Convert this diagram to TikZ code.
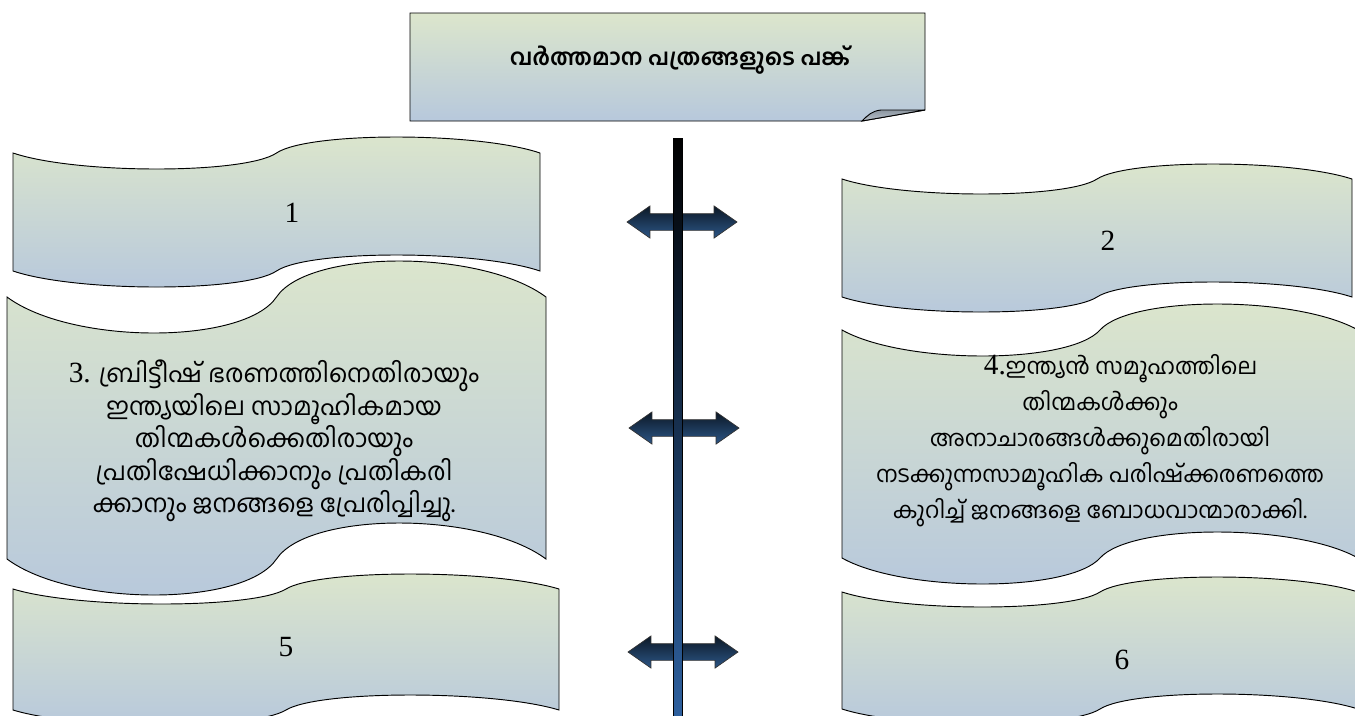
\documentclass[tikz,border=0pt]{standalone}
\usepackage{fontspec}
\setmainfont{Liberation Serif}
\newfontfamily\malfont[Script=Malayalam]{Hind Kochi}
\usetikzlibrary{shapes.arrows}

\definecolor{wavetop}{RGB}{220,230,204}
\definecolor{wavebot}{RGB}{183,200,220}
\definecolor{foldtop}{RGB}{140,150,160}
\definecolor{foldbot}{RGB}{185,194,204}
\definecolor{arrowtop}{RGB}{12,24,38}
\definecolor{arrowbot}{RGB}{44,86,134}
\definecolor{barbot}{RGB}{46,96,158}

% wave outline: left, top end, right, bottom end, swing
\newcommand{\wavepath}[5]{(#1,#2)
  .. controls ({#1+0.12*(#3-#1)},{#2+4*#5/3}) and ({#1+0.44*(#3-#1)},{#2+4*#5/3}) .. ({#1+(#3-#1)/2},#2)
  .. controls ({#1+0.56*(#3-#1)},{#2-4*#5/3}) and ({#1+0.88*(#3-#1)},{#2-4*#5/3}) .. (#3,#2)
  -- (#3,#4)
  .. controls ({#1+0.88*(#3-#1)},{#4-4*#5/3}) and ({#1+0.56*(#3-#1)},{#4-4*#5/3}) .. ({#1+(#3-#1)/2},#4)
  .. controls ({#1+0.44*(#3-#1)},{#4+4*#5/3}) and ({#1+0.12*(#3-#1)},{#4+4*#5/3}) .. (#1,#4) -- cycle}

\begin{document}
\begin{tikzpicture}[x=0.75pt,y=-0.75pt]
 \tikzstyle{every node}=[text=black, inner sep=0pt]
 \tikzstyle{banner}=[draw=black, line width=0.7pt, top color=wavetop, bottom color=wavebot]
 \tikzstyle{maltext}=[font=\malfont\fontsize{18.7}{21.9}\selectfont, align=center]
 \tikzstyle{numtext}=[font=\fontsize{22}{26}\selectfont]
 \tikzstyle{linkarrow}=[double arrow, draw=black!80, line width=0.5pt,
                        top color=arrowtop, bottom color=arrowbot,
                        inner xsep=0pt, inner ysep=6pt, minimum height=82.5pt,
                        double arrow head extend=5.8pt, double arrow tip angle=70]

\useasboundingbox (0,0) rectangle (1355,715);

% title with folded corner
\path[banner] (410,13) -- (925,13) -- (925,110) -- (862,121) -- (410,121) -- cycle;
\path[draw=black, line width=0.7pt, top color=foldtop, bottom color=foldbot]
    (862,121) .. controls (868,115) and (872,111) .. (881,110) -- (925,110) -- cycle;
\node[maltext, font=\malfont\bfseries\fontsize{17}{21.75}\selectfont] (title) at (680,60)
    {വർത്തമാന പത്രങ്ങളുടെ പങ്ക്};

% left column
\path[banner] \wavepath{13}{153}{540}{271}{16};
\path[banner] \wavepath{7}{297}{546}{559}{36};
\path[banner] \wavepath{13}{589}{559}{710}{15};

% right column
\path[banner] \wavepath{842}{179}{1352}{297}{15};
\path[banner] \wavepath{842}{330}{1358}{558}{26};
\path[banner] \wavepath{842}{592}{1358}{709}{15};

\node[numtext] (one) at (292,213) {1};
\node[numtext] (two) at (1108,241) {2};
\node[maltext] (three) at (274,441)
    {{\normalfont\fontsize{22}{26}\selectfont 3.} ബ്രിട്ടീഷ് ഭരണത്തിനെതിരായും\\
     ഇന്ത്യയിലെ സാമൂഹികമായ\\
     തിന്മകൾക്കെതിരായും\\
     പ്രതിഷേധിക്കാനും പ്രതികരി\\
     ക്കാനും ജനങ്ങളെ പ്രേരിപ്പിച്ചു.};
\node[maltext, font=\malfont\fontsize{17}{27}\selectfont] (four) at (1100,441)
    {\hspace*{31pt}{\normalfont\fontsize{22}{26}\selectfont 4.}ഇന്ത്യൻ സമൂഹത്തിലെ\\
     തിന്മകൾക്കും\\
     അനാചാരങ്ങൾക്കുമെതിരായി\\
     നടക്കുന്നസാമൂഹിക പരിഷ്ക്കരണത്തെ\\
     കുറിച്ച് ജനങ്ങളെ ബോധവാന്മാരാക്കി.};
\node[numtext] (five) at (286,647) {5};
\node[numtext] (six) at (1122,660) {6};

% centre bar and links
\node[linkarrow] (linka) at (682,222) {};
\node[linkarrow] (linkb) at (684,428) {};
\node[linkarrow] (linkc) at (683,652) {};
\path[draw=black, line width=0.4pt, top color=black, bottom color=barbot]
    (673,138) rectangle (682,716);

\end{tikzpicture}
\end{document}
